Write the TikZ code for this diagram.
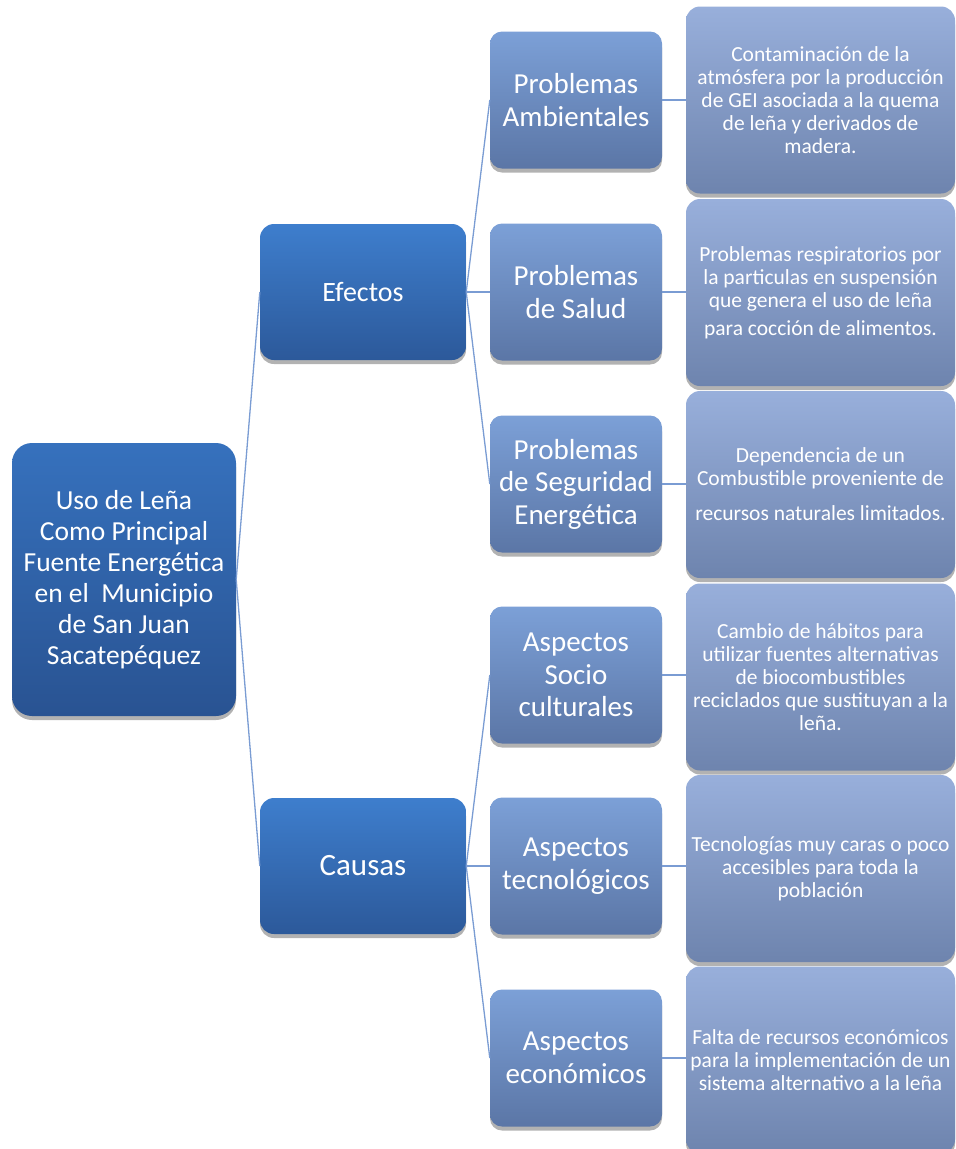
\documentclass[tikz,border=0pt]{standalone}
\usepackage{fontspec}
\setmainfont{Carlito}
\usepackage{tikz}
\usetikzlibrary{shadows}

\definecolor{rootTop}{RGB}{54,113,189}
\definecolor{rootBot}{RGB}{41,83,146}
\definecolor{mainTop}{RGB}{62,126,205}
\definecolor{mainBot}{RGB}{44,89,154}
\definecolor{subTop}{RGB}{124,160,215}
\definecolor{subBot}{RGB}{91,118,166}
\definecolor{noteTop}{RGB}{152,175,219}
\definecolor{noteBot}{RGB}{110,132,174}
\definecolor{linkBlue}{RGB}{122,156,211}

\tikzset{
  box/.style={text=white, align=center, inner sep=0pt,
    drop shadow={shadow xshift=0pt, shadow yshift=-4pt, opacity=0.3, fill=black}},
  rootbox/.style={box, rounded corners=20pt, minimum width=224pt, minimum height=273pt,
    top color=rootTop, bottom color=rootBot, font=\fontsize{27.5}{31}\selectfont},
  mainbox/.style={box, rounded corners=14pt, minimum width=206pt, minimum height=136pt,
    top color=mainTop, bottom color=mainBot},
  subbox/.style={box, rounded corners=12pt, minimum width=172pt, minimum height=137pt,
    top color=subTop, bottom color=subBot, font=\fontsize{29}{32.5}\selectfont},
  notebox/.style={box, rounded corners=14pt, minimum width=269pt, minimum height=187pt,
    top color=noteTop, bottom color=noteBot, font=\fontsize{21.5}{23}\selectfont},
  link/.style={draw=linkBlue, line width=1.3pt}
}

\begin{document}
\begin{tikzpicture}[x=1pt,y=-1pt]
\useasboundingbox (0,0) rectangle (956,1149);

% root and first level
\node[rootbox] (root) at (124,579.5) {Uso de Leña\\Como Principal\\Fuente Energética\\en el\ \ Municipio\\de San Juan\\Sacatepéquez};
\node[mainbox, font=\fontsize{28}{32}\selectfont] (efectos) at (363,292) {Efectos};
\node[mainbox, font=\fontsize{31}{34}\selectfont] (causas) at (363,866) {Causas};

% second level
\node[subbox] (amb) at (576,100) {Problemas\\Ambientales};
\node[subbox] (salud) at (576,292) {Problemas\\de Salud};
\node[subbox] (seg) at (576,484) {Problemas\\de Seguridad\\Energética};
\node[subbox] (socio) at (576,675) {Aspectos\\Socio\\culturales};
\node[subbox] (tec) at (576,866) {Aspectos\\tecnológicos};
\node[subbox] (eco) at (576,1058) {Aspectos\\económicos};

% third level
\node[notebox] (ambN) at (820.5,100) {Contaminación de la\\atmósfera por la producción\\de GEI asociada a la quema\\de leña y derivados de\\madera.};
\node[notebox] (saludN) at (820.5,292.5) {Problemas respiratorios por\\la particulas en suspensión\\que genera el uso de leña\\[5pt]para cocción de alimentos.};
\node[notebox] (segN) at (820.5,484.5) {Dependencia de un\\Combustible proveniente de\\[12pt]recursos naturales limitados.};
\node[notebox] (socioN) at (820.5,677) {Cambio de hábitos para\\utilizar fuentes alternativas\\de biocombustibles\\reciclados que sustituyan a la\\leña.};
\node[notebox] (tecN) at (820.5,868.5) {Tecnologías muy caras o poco\\accesibles para toda la\\población};
\node[notebox] (ecoN) at (820.5,1060) {Falta de recursos económicos\\para la implementación de un\\sistema alternativo a la leña};

% connectors behind the boxes
\begin{scope}[on background layer/.try]
\foreach \a/\b in {root/efectos,root/causas,efectos/amb,efectos/salud,efectos/seg,
  causas/socio,causas/tec,causas/eco}{
  \draw[link] (\a.east) -- (\b.west);
}
\foreach \a in {amb,salud,seg,socio,tec,eco}{
  \draw[link] (\a.east) -- (\a N.west |- \a.east);
}
\end{scope}
\end{tikzpicture}
\end{document}
